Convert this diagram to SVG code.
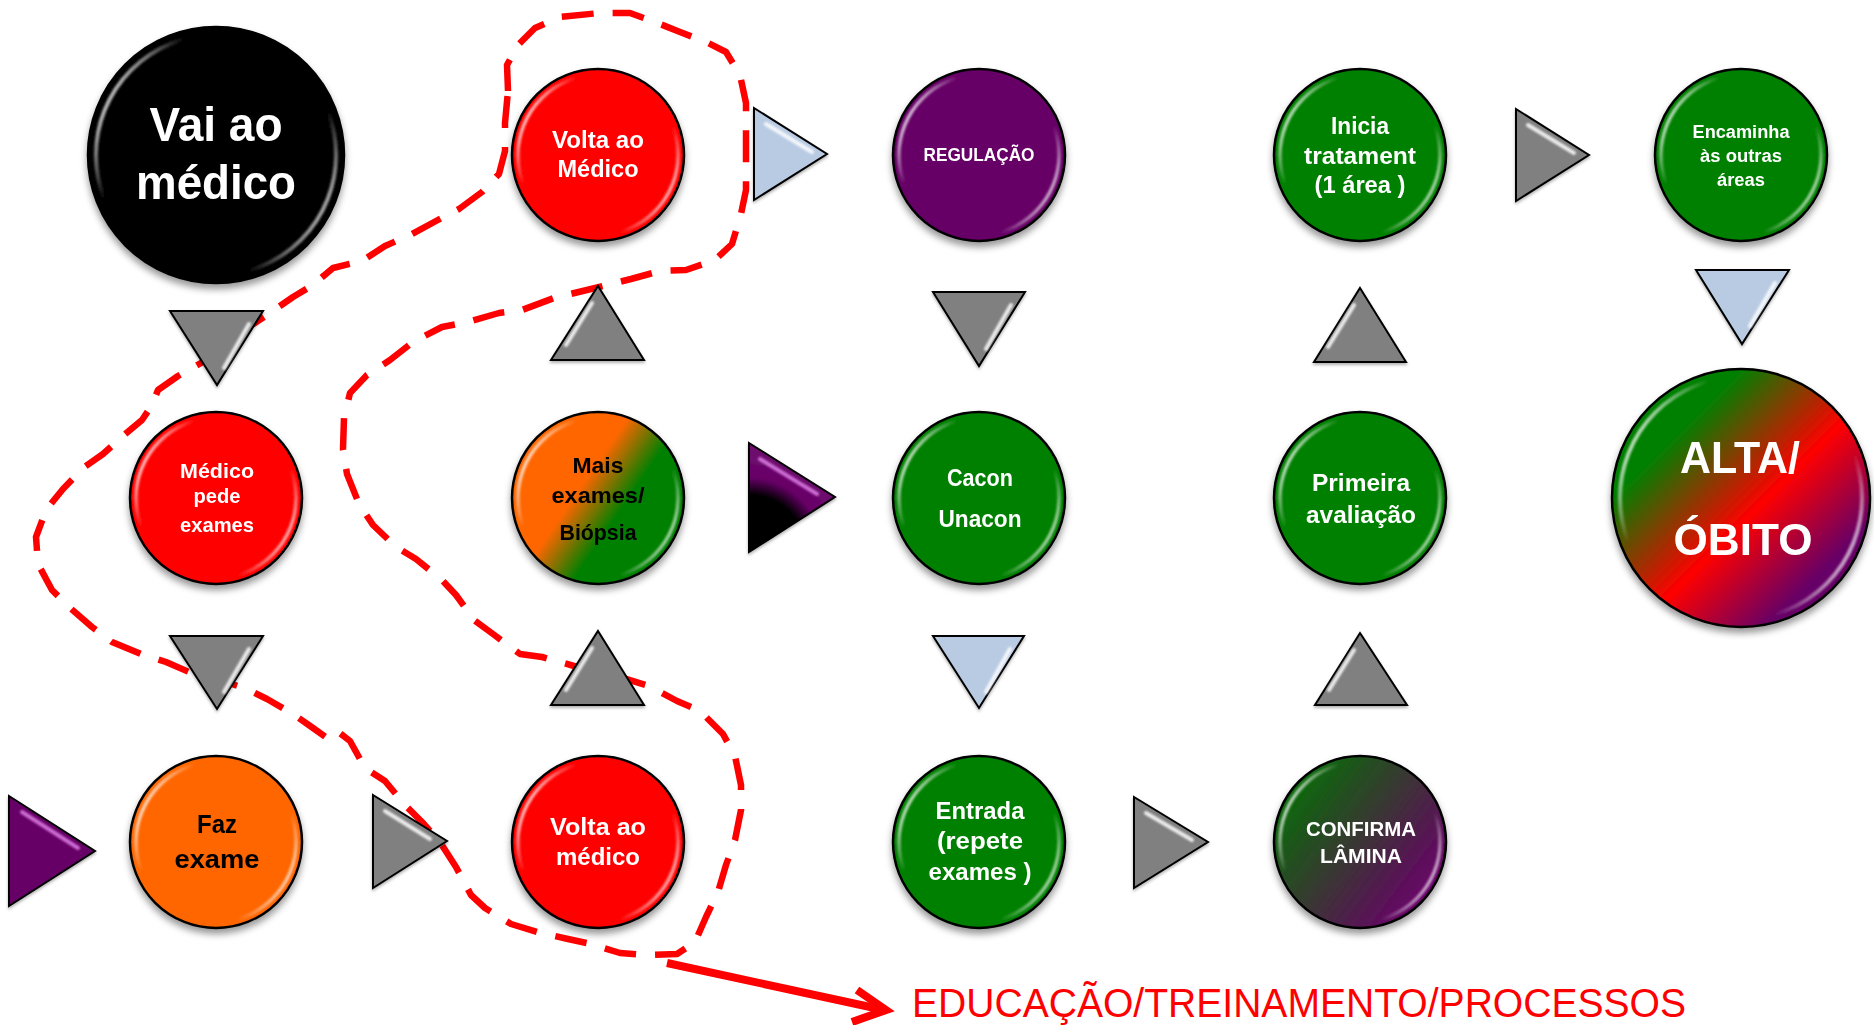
<svg xmlns="http://www.w3.org/2000/svg" width="1874" height="1025" viewBox="0 0 1874 1025">
<defs>
<style>
.bg{fill:#fff}
.node{stroke:#000;stroke-width:2.5}
.ring{fill:none;stroke:url(#hl);stroke-width:3.5;filter:url(#soft)}
.tri{stroke:#000;stroke-width:2;stroke-linejoin:miter;filter:url(#tshadow)}
.thl{stroke:#fff;stroke-width:4;stroke-linecap:round;opacity:.85;filter:url(#soft)}
.gray{fill:#808080}
.blue{fill:#b9cbe3}
.t{font-family:"Liberation Sans",Arial,sans-serif;font-weight:bold;text-anchor:middle;fill:#fff}
.k{fill:#000}
.loop{fill:none;stroke:#ff0000;stroke-width:6.5;stroke-dasharray:32 19;stroke-linejoin:round;stroke-linecap:butt}
.arrow{fill:none;stroke:#ff0000;stroke-width:8;stroke-linejoin:miter}
</style>
<filter id="shadow" x="-20%" y="-20%" width="140%" height="150%">
<feDropShadow dx="0" dy="5" stdDeviation="3.5" flood-color="#000" flood-opacity="0.4"/>
</filter>
<filter id="tshadow" x="-20%" y="-20%" width="140%" height="150%">
<feDropShadow dx="0" dy="2" stdDeviation="1.5" flood-color="#000" flood-opacity="0.3"/>
</filter>
<filter id="soft" x="-20%" y="-20%" width="140%" height="140%">
<feGaussianBlur stdDeviation="0.9"/>
</filter>
<linearGradient id="hl" x1="0" y1="0.25" x2="1" y2="0.75">
<stop offset="0" stop-color="#fff" stop-opacity="0.95"/>
<stop offset="0.2" stop-color="#fff" stop-opacity="0"/>
<stop offset="0.8" stop-color="#fff" stop-opacity="0"/>
<stop offset="1" stop-color="#fff" stop-opacity="0.85"/>
</linearGradient>
<linearGradient id="gMais" x1="0.25" y1="0.33" x2="0.75" y2="0.67">
<stop offset="0.3" stop-color="#ff6600"/>
<stop offset="0.75" stop-color="#008000"/>
</linearGradient>
<linearGradient id="gAlta" x1="0" y1="0" x2="1" y2="1">
<stop offset="0.25" stop-color="#008000"/>
<stop offset="0.55" stop-color="#ff0000"/>
<stop offset="0.8" stop-color="#660066"/>
</linearGradient>
<linearGradient id="gLamina" x1="0.1" y1="0.2" x2="0.9" y2="0.8">
<stop offset="0" stop-color="#0a6a0a"/>
<stop offset="0.5" stop-color="#3b3535"/>
<stop offset="1" stop-color="#6a006a"/>
</linearGradient>
<radialGradient id="gPB" gradientUnits="userSpaceOnUse" cx="749" cy="552" r="95">
<stop offset="0" stop-color="#000"/>
<stop offset="0.6" stop-color="#000"/>
<stop offset="0.78" stop-color="#660066"/>
<stop offset="1" stop-color="#6e0a6e"/>
</radialGradient>
</defs>
<rect class="bg" x="0" y="0" width="1874" height="1025"/>

<g id="highlight-loop">
<path class="loop" d="M508,91 L507,65 L518,45 L535,28 L560,17 L600,13 L630,13 L655,22 L680,32 L706,42 L726,52 L740,75 L746,103 L746,190 L741,214 L732,244 L715,260 L686,270 L660,271 L631,279 L591,289 L554,298 L522,310 L499,313 L468,322 L442,327 L413,342 L390,360 L367,375 L350,393 L344,418 L343,449 L347,474 L359,504 L373,525 L396,547 L416,559 L442,580 L456,595 L474,620 L493,634 L520,654 L542,657 L574,666 L610,674 L649,686 L677,701 L700,711 L723,734 L735,756 L741,785 L741,810 L735,840 L726,865 L718,892 L706,917 L695,942 L677,954 L646,955 L620,953 L591,944 L568,939 L537,932 L511,924 L485,908 L471,895 L456,867 L440,842 L422,822 L405,805 L385,781 L365,768 L350,741 L337,731 L327,738 L313,728 L293,714 L267,699 L247,689 L220,680 L189,672 L166,662 L141,654 L112,642 L92,627 L69,607 L52,590 L38,564 L36,537 L46,510 L63,489 L83,468 L103,454 L123,436 L142,420 L152,405 L158,390 L178,376 L201,363 L232,338 L267,315 L293,297 L313,285 L333,268 L362,261 L385,246 L410,235 L436,221 L459,209 L482,192 L499,174 L505,151 L505,123 Z"/>
</g>

<g id="connectors">
<g id="tri-1"><polygon class="tri gray" points="170,311 263,311 217,385"/><line class="thl" x1="249" y1="324" x2="224" y2="368"/></g>
<g id="tri-2"><polygon class="tri gray" points="170,636 263,636 217,709"/><line class="thl" x1="249" y1="649" x2="224" y2="692"/></g>
<g id="tri-3"><polygon class="tri gray" points="598,286 644,360 551,360"/><line class="thl" x1="592" y1="303" x2="566" y2="345"/></g>
<g id="tri-4"><polygon class="tri gray" points="598,631 644,705 551,705"/><line class="thl" x1="592" y1="648" x2="566" y2="690"/></g>
<g id="tri-5"><polygon class="tri blue" points="754,108 827,154 754,200"/><line class="thl" x1="766" y1="124" x2="812" y2="152"/></g>
<g id="tri-6"><polygon class="tri" fill="url(#gPB)" points="749,443 835,497 749,552"/><line class="thl" style="stroke:#e080e8" x1="760" y1="459" x2="817" y2="494"/></g>
<g id="tri-7"><polygon class="tri" fill="#660066" points="9,796 95,851 9,906"/><line class="thl" style="stroke:#e080e8" x1="22" y1="812" x2="78" y2="848"/></g>
<g id="tri-8"><polygon class="tri gray" points="373,795 447,841 373,888"/><line class="thl" x1="385" y1="811" x2="430" y2="839"/></g>
<g id="tri-9"><polygon class="tri gray" points="933,292 1025,292 979,366"/><line class="thl" x1="1011" y1="305" x2="986" y2="349"/></g>
<g id="tri-10"><polygon class="tri blue" points="933,636 1024,636 979,708"/><line class="thl" x1="1010" y1="649" x2="986" y2="692"/></g>
<g id="tri-11"><polygon class="tri gray" points="1360,288 1406,362 1314,362"/><line class="thl" x1="1354" y1="305" x2="1328" y2="347"/></g>
<g id="tri-12"><polygon class="tri gray" points="1360,633 1407,705 1315,705"/><line class="thl" x1="1354" y1="650" x2="1329" y2="690"/></g>
<g id="tri-13"><polygon class="tri gray" points="1516,109 1589,155 1516,201"/><line class="thl" x1="1528" y1="125" x2="1574" y2="153"/></g>
<g id="tri-14"><polygon class="tri gray" points="1134,797 1208,842 1134,888"/><line class="thl" x1="1146" y1="813" x2="1192" y2="840"/></g>
<g id="tri-15"><polygon class="tri blue" points="1696,270 1789,270 1742,344"/><line class="thl" x1="1775" y1="283" x2="1750" y2="326"/></g>
</g>

<g id="node-vai" filter="url(#shadow)">
<circle class="node" cx="216" cy="155" r="128" fill="#000"/>
<circle class="ring" cx="216" cy="155" r="120" style="stroke-width:4"/>
<text class="t" font-size="48"><tspan x="216" y="141" textLength="133" lengthAdjust="spacingAndGlyphs">Vai ao</tspan><tspan x="216" y="199" textLength="160" lengthAdjust="spacingAndGlyphs">médico</tspan></text>
</g>
<g id="node-volta1" filter="url(#shadow)">
<circle class="node" cx="598" cy="155" r="86" fill="#ff0000"/>
<circle class="ring" cx="598" cy="155" r="80"/>
<text class="t" font-size="24"><tspan x="598" y="148" textLength="92" lengthAdjust="spacingAndGlyphs">Volta ao</tspan><tspan x="598" y="177" textLength="81" lengthAdjust="spacingAndGlyphs">Médico</tspan></text>
</g>
<g id="node-regulacao" filter="url(#shadow)">
<circle class="node" cx="979" cy="155" r="86" fill="#660066"/>
<circle class="ring" cx="979" cy="155" r="80"/>
<text class="t" font-size="19"><tspan x="979" y="161" textLength="111" lengthAdjust="spacingAndGlyphs">REGULAÇÃO</tspan></text>
</g>
<g id="node-inicia" filter="url(#shadow)">
<circle class="node" cx="1360" cy="155" r="86" fill="#008000"/>
<circle class="ring" cx="1360" cy="155" r="80"/>
<text class="t" font-size="24"><tspan x="1360" y="134" textLength="58" lengthAdjust="spacingAndGlyphs">Inicia</tspan><tspan x="1360" y="164" textLength="112" lengthAdjust="spacingAndGlyphs">tratament</tspan><tspan x="1360" y="193" textLength="91" lengthAdjust="spacingAndGlyphs">(1 área )</tspan></text>
</g>
<g id="node-encaminha" filter="url(#shadow)">
<circle class="node" cx="1741" cy="155" r="86" fill="#008000"/>
<circle class="ring" cx="1741" cy="155" r="80"/>
<text class="t" font-size="18"><tspan x="1741" y="138" textLength="97" lengthAdjust="spacingAndGlyphs">Encaminha</tspan><tspan x="1741" y="162" textLength="82" lengthAdjust="spacingAndGlyphs">às outras</tspan><tspan x="1741" y="186" textLength="48" lengthAdjust="spacingAndGlyphs">áreas</tspan></text>
</g>
<g id="node-medico-pede" filter="url(#shadow)">
<circle class="node" cx="216" cy="498" r="86" fill="#ff0000"/>
<circle class="ring" cx="216" cy="498" r="80"/>
<text class="t" font-size="21"><tspan x="217" y="478" textLength="74" lengthAdjust="spacingAndGlyphs">Médico</tspan><tspan x="217" y="503" textLength="47" lengthAdjust="spacingAndGlyphs">pede</tspan><tspan x="217" y="532" textLength="74" lengthAdjust="spacingAndGlyphs">exames</tspan></text>
</g>
<g id="node-mais" filter="url(#shadow)">
<circle class="node" cx="598" cy="498" r="86" fill="url(#gMais)"/>
<circle class="ring" cx="598" cy="498" r="80"/>
<text class="t k" font-size="22"><tspan x="598" y="473" textLength="51" lengthAdjust="spacingAndGlyphs">Mais</tspan><tspan x="598" y="503" textLength="93" lengthAdjust="spacingAndGlyphs">exames/</tspan><tspan x="598" y="540" textLength="77" lengthAdjust="spacingAndGlyphs">Biópsia</tspan></text>
</g>
<g id="node-cacon" filter="url(#shadow)">
<circle class="node" cx="979" cy="498" r="86" fill="#008000"/>
<circle class="ring" cx="979" cy="498" r="80"/>
<text class="t" font-size="23"><tspan x="980" y="486" textLength="66" lengthAdjust="spacingAndGlyphs">Cacon</tspan><tspan x="980" y="527" textLength="83" lengthAdjust="spacingAndGlyphs">Unacon</tspan></text>
</g>
<g id="node-primeira" filter="url(#shadow)">
<circle class="node" cx="1360" cy="498" r="86" fill="#008000"/>
<circle class="ring" cx="1360" cy="498" r="80"/>
<text class="t" font-size="23"><tspan x="1361" y="491" textLength="98" lengthAdjust="spacingAndGlyphs">Primeira</tspan><tspan x="1361" y="523" textLength="110" lengthAdjust="spacingAndGlyphs">avaliação</tspan></text>
</g>
<g id="node-alta" filter="url(#shadow)">
<circle class="node" cx="1741" cy="498" r="129" fill="url(#gAlta)"/>
<circle class="ring" cx="1741" cy="498" r="121" style="stroke-width:4"/>
<text class="t" font-size="44"><tspan x="1740" y="473" textLength="120" lengthAdjust="spacingAndGlyphs">ALTA/</tspan><tspan x="1743" y="555" textLength="139" lengthAdjust="spacingAndGlyphs">ÓBITO</tspan></text>
</g>
<g id="node-faz" filter="url(#shadow)">
<circle class="node" cx="216" cy="842" r="86" fill="#ff6600"/>
<circle class="ring" cx="216" cy="842" r="80"/>
<text class="t k" font-size="26"><tspan x="217" y="833" textLength="40" lengthAdjust="spacingAndGlyphs">Faz</tspan><tspan x="217" y="868" textLength="85" lengthAdjust="spacingAndGlyphs">exame</tspan></text>
</g>
<g id="node-volta2" filter="url(#shadow)">
<circle class="node" cx="598" cy="842" r="86" fill="#ff0000"/>
<circle class="ring" cx="598" cy="842" r="80"/>
<text class="t" font-size="24"><tspan x="598" y="835" textLength="96" lengthAdjust="spacingAndGlyphs">Volta ao</tspan><tspan x="598" y="865" textLength="84" lengthAdjust="spacingAndGlyphs">médico</tspan></text>
</g>
<g id="node-entrada" filter="url(#shadow)">
<circle class="node" cx="979" cy="842" r="86" fill="#008000"/>
<circle class="ring" cx="979" cy="842" r="80"/>
<text class="t" font-size="23"><tspan x="980" y="819" textLength="89" lengthAdjust="spacingAndGlyphs">Entrada</tspan><tspan x="980" y="849" textLength="86" lengthAdjust="spacingAndGlyphs">(repete</tspan><tspan x="980" y="880" textLength="103" lengthAdjust="spacingAndGlyphs">exames )</tspan></text>
</g>
<g id="node-confirma" filter="url(#shadow)">
<circle class="node" cx="1360" cy="842" r="86" fill="url(#gLamina)"/>
<circle class="ring" cx="1360" cy="842" r="80"/>
<text class="t" font-size="20"><tspan x="1361" y="836" textLength="110" lengthAdjust="spacingAndGlyphs">CONFIRMA</tspan><tspan x="1361" y="863" textLength="82" lengthAdjust="spacingAndGlyphs">LÂMINA</tspan></text>
</g>

<g id="label-educacao">
<line class="arrow" x1="667" y1="963" x2="884" y2="1010"/>
<path class="arrow" d="M857,990 L886,1010 L852,1022"/>
<text x="912" y="1017" font-family="'Liberation Sans',Arial,sans-serif" font-size="40" fill="#ff0000" textLength="774" lengthAdjust="spacingAndGlyphs">EDUCAÇÃO/TREINAMENTO/PROCESSOS</text>
</g>
</svg>
